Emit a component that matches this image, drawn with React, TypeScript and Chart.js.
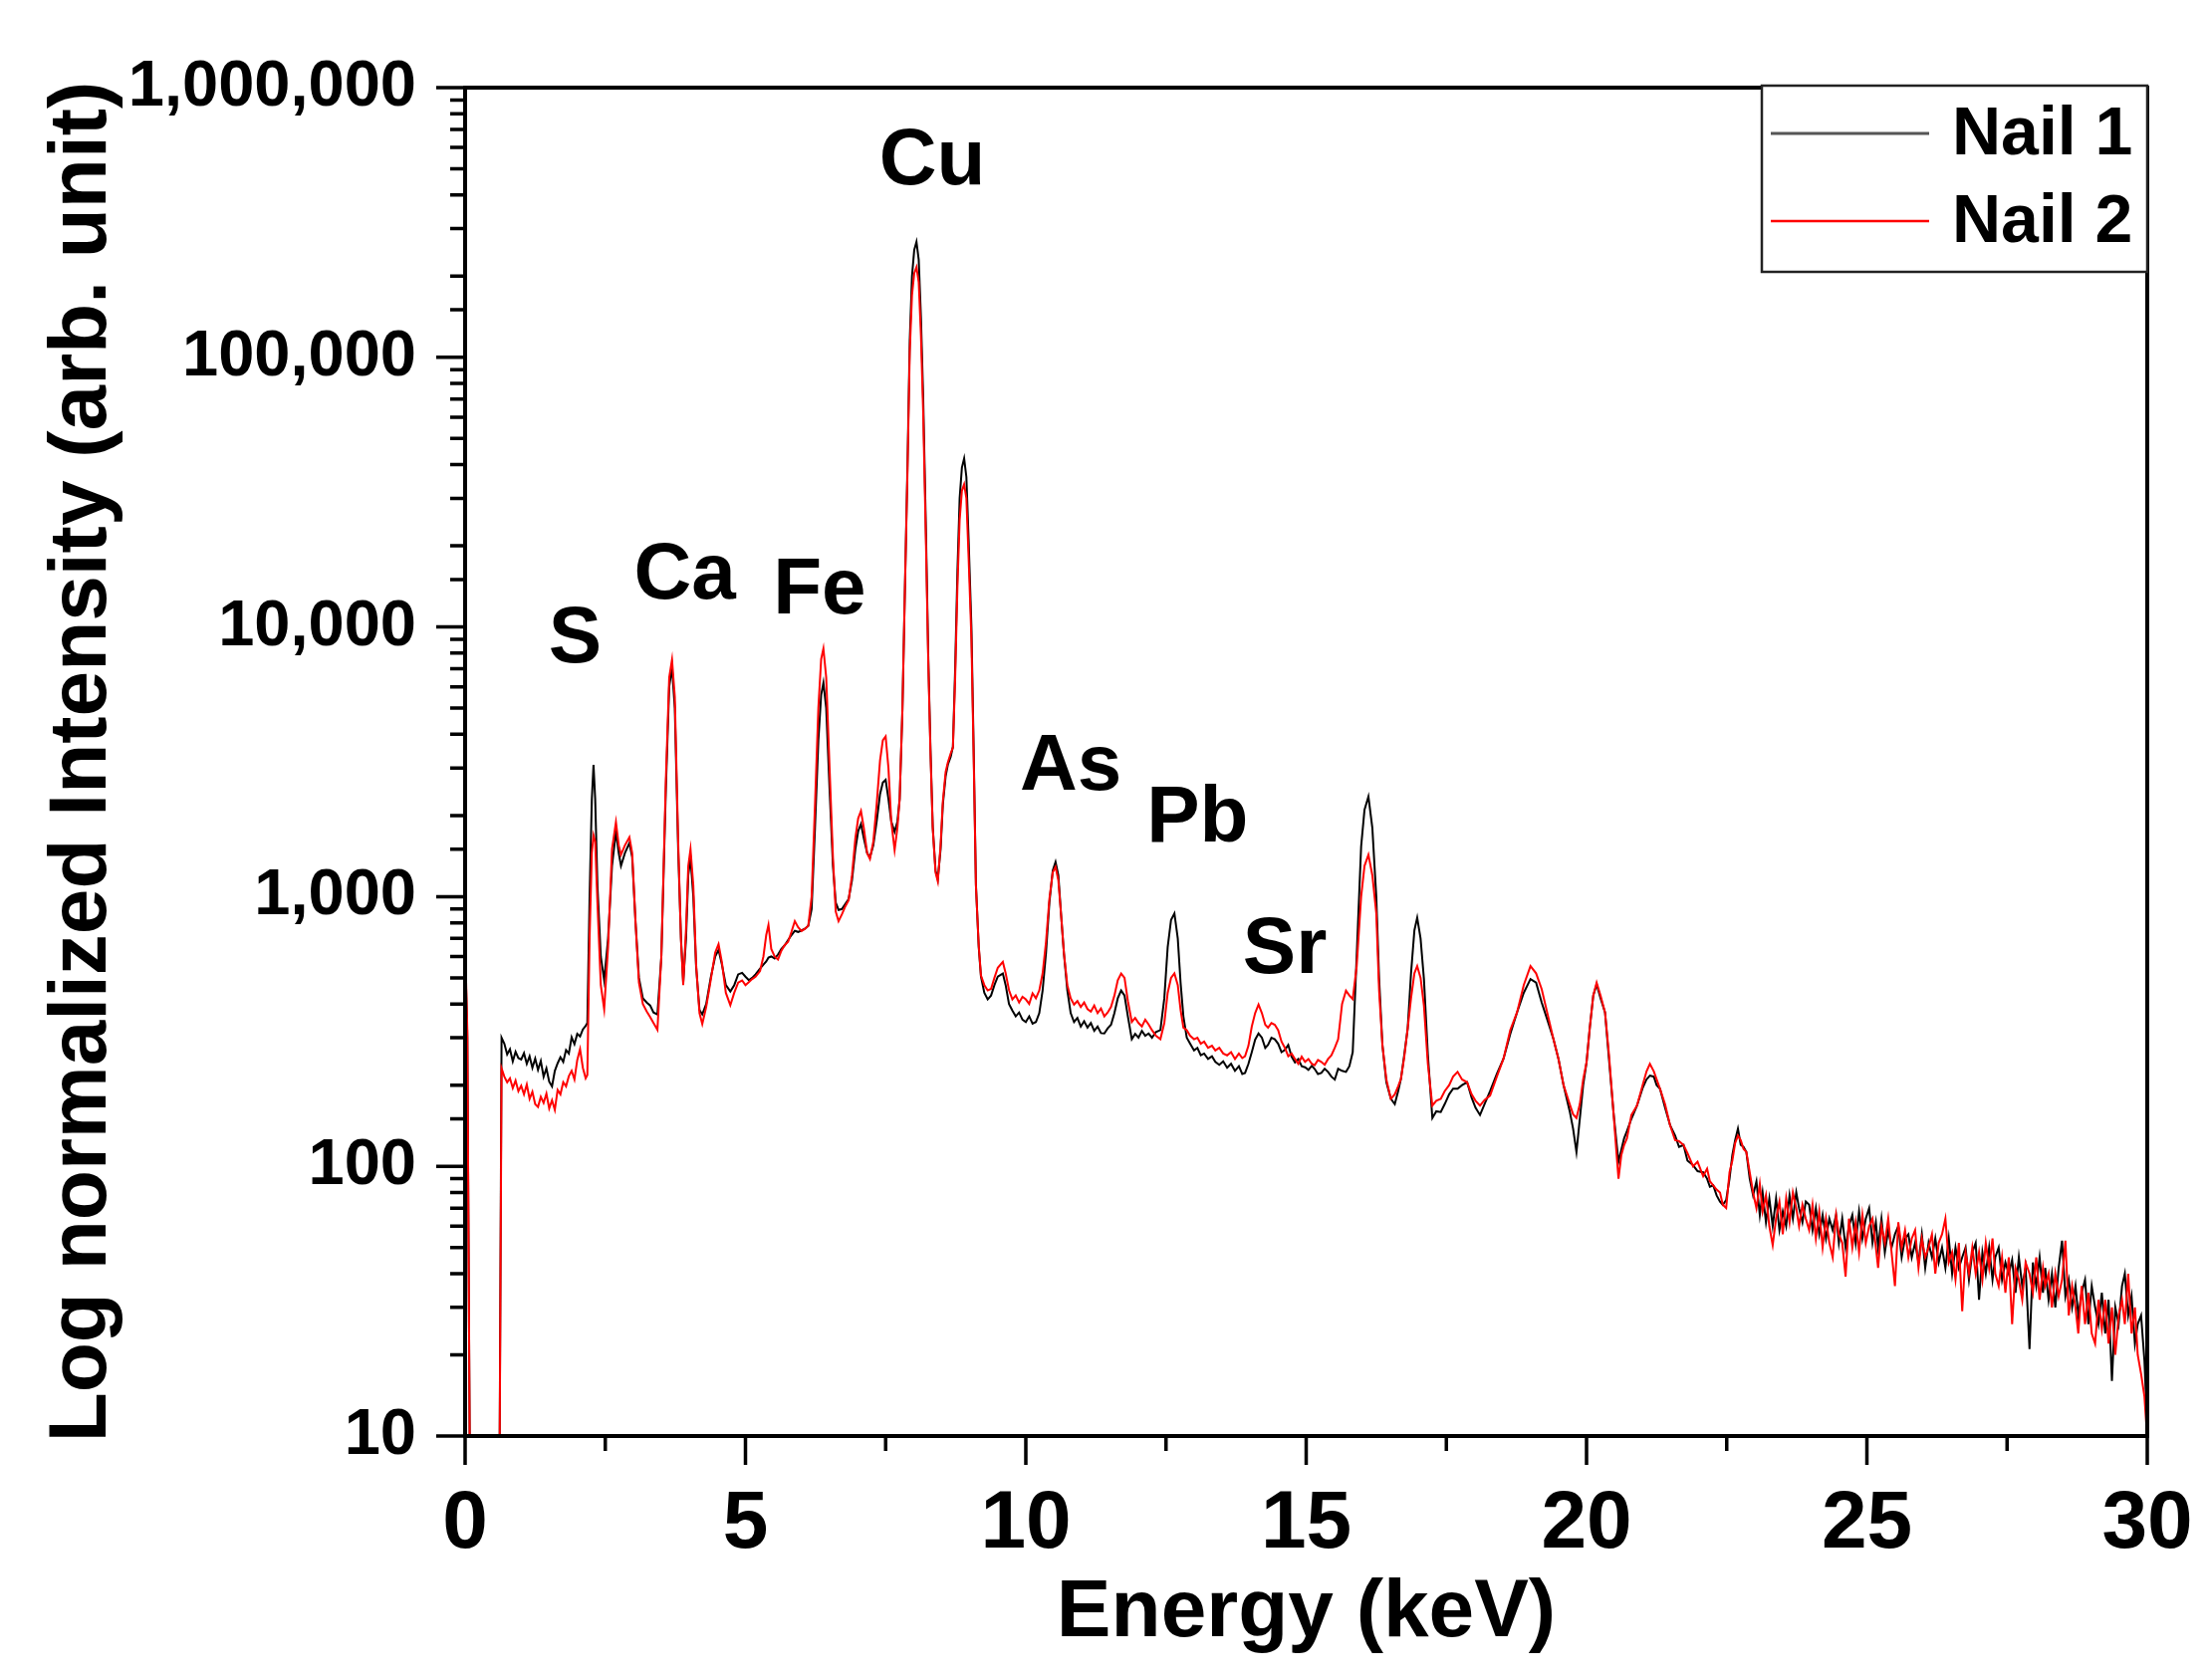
import { useEffect, useRef } from 'react'
import { Chart, registerables } from 'chart.js'

Chart.register(...registerables)

// XRF spectra of two nail samples (keV, normalized counts)
const ENERGY_KEV = [
  0, 0.04, 0.09, 0.61, 0.65, 0.70, 0.75, 0.80, 0.85, 0.90,
  0.95, 1.00, 1.05, 1.10, 1.15, 1.20, 1.25, 1.30, 1.35, 1.40,
  1.45, 1.50, 1.55, 1.60, 1.65, 1.70, 1.75, 1.80, 1.85, 1.90,
  1.95, 2.00, 2.05, 2.10, 2.15, 2.18, 2.22, 2.26, 2.29, 2.32,
  2.36, 2.42, 2.48, 2.55, 2.62, 2.69, 2.74, 2.78, 2.85, 2.93,
  2.98, 3.04, 3.10, 3.17, 3.24, 3.30, 3.36, 3.43, 3.50, 3.58,
  3.64, 3.69, 3.74, 3.80, 3.85, 3.89, 3.94, 3.98, 4.02, 4.07,
  4.12, 4.18, 4.23, 4.30, 4.38, 4.46, 4.52, 4.58, 4.65, 4.73,
  4.80, 4.87, 4.94, 5.00, 5.06, 5.12, 5.18, 5.26, 5.32, 5.37,
  5.41, 5.46, 5.52, 5.58, 5.64, 5.70, 5.76, 5.82, 5.88, 5.94,
  6.00, 6.06, 6.12, 6.18, 6.24, 6.30, 6.35, 6.39, 6.44, 6.50,
  6.56, 6.61, 6.66, 6.72, 6.78, 6.84, 6.90, 6.96, 7.01, 7.06,
  7.11, 7.17, 7.22, 7.28, 7.34, 7.40, 7.45, 7.50, 7.55, 7.60,
  7.66, 7.71, 7.75, 7.80, 7.84, 7.89, 7.93, 7.97, 8.01, 8.05,
  8.09, 8.13, 8.17, 8.22, 8.26, 8.30, 8.34, 8.39, 8.43, 8.48,
  8.52, 8.57, 8.61, 8.66, 8.70, 8.74, 8.78, 8.82, 8.86, 8.90,
  8.94, 8.98, 9.03, 9.07, 9.11, 9.16, 9.20, 9.26, 9.32, 9.38,
  9.44, 9.50, 9.59, 9.64, 9.70, 9.76, 9.82, 9.88, 9.94, 10.00,
  10.06, 10.12, 10.18, 10.24, 10.30, 10.36, 10.42, 10.48, 10.53, 10.58,
  10.63, 10.68, 10.74, 10.80, 10.86, 10.92, 10.98, 11.04, 11.10, 11.16,
  11.22, 11.28, 11.34, 11.40, 11.46, 11.52, 11.58, 11.64, 11.70, 11.76,
  11.82, 11.89, 11.95, 12.01, 12.07, 12.13, 12.19, 12.25, 12.32, 12.40,
  12.47, 12.53, 12.59, 12.65, 12.71, 12.76, 12.81, 12.87, 12.93, 13.00,
  13.06, 13.12, 13.18, 13.25, 13.32, 13.38, 13.45, 13.52, 13.59, 13.66,
  13.73, 13.80, 13.86, 13.91, 13.97, 14.03, 14.09, 14.15, 14.21, 14.27,
  14.32, 14.38, 14.44, 14.50, 14.56, 14.62, 14.68, 14.74, 14.80, 14.86,
  14.92, 14.98, 15.04, 15.10, 15.15, 15.21, 15.27, 15.33, 15.39, 15.45,
  15.51, 15.57, 15.64, 15.71, 15.77, 15.83, 15.90, 15.98, 16.04, 16.11,
  16.18, 16.25, 16.30, 16.36, 16.43, 16.51, 16.58, 16.64, 16.69, 16.75,
  16.81, 16.87, 16.93, 16.98, 17.04, 17.10, 17.17, 17.25, 17.32, 17.40,
  17.47, 17.55, 17.62, 17.70, 17.78, 17.87, 17.95, 18.02, 18.10, 18.18,
  18.28, 18.40, 18.52, 18.64, 18.76, 18.88, 19.00, 19.10, 19.20, 19.30,
  19.41, 19.50, 19.59, 19.70, 19.76, 19.82, 19.88, 19.94, 20.00, 20.06,
  20.12, 20.18, 20.25, 20.33, 20.40, 20.48, 20.53, 20.57, 20.62, 20.67,
  20.72, 20.80, 20.90, 21.00, 21.07, 21.13, 21.20, 21.25, 21.31, 21.40,
  21.49, 21.58, 21.65, 21.73, 21.80, 21.90, 21.98, 22.08, 22.15, 22.20,
  22.26, 22.32, 22.38, 22.43, 22.49, 22.55, 22.60, 22.65, 22.70, 22.75,
  22.80, 22.85, 22.91, 22.97, 23.03, 23.09, 23.14, 23.20, 23.26, 23.32,
  23.38, 23.44, 23.50, 23.56, 23.62, 23.68, 23.74, 23.79, 23.85, 23.91,
  23.97, 24.03, 24.09, 24.15, 24.21, 24.27, 24.33, 24.39, 24.45, 24.50,
  24.56, 24.62, 24.68, 24.74, 24.80, 24.86, 24.92, 24.98, 25.04, 25.10,
  25.16, 25.20, 25.26, 25.32, 25.38, 25.44, 25.50, 25.56, 25.62, 25.68,
  25.74, 25.80, 25.86, 25.92, 25.98, 26.04, 26.10, 26.16, 26.22, 26.28,
  26.34, 26.40, 26.46, 26.52, 26.58, 26.64, 26.70, 26.76, 26.82, 26.88,
  26.94, 27.00, 27.06, 27.12, 27.18, 27.24, 27.29, 27.35, 27.41, 27.47,
  27.53, 27.59, 27.65, 27.71, 27.77, 27.83, 27.90, 27.96, 28.02, 28.08,
  28.14, 28.18, 28.24, 28.30, 28.36, 28.42, 28.48, 28.54, 28.60, 28.66,
  28.72, 28.77, 28.83, 28.89, 28.95, 29.01, 29.07, 29.13, 29.19, 29.25,
  29.31, 29.37, 29.43, 29.49, 29.55, 29.60, 29.66, 29.72, 29.78, 29.83,
  29.89, 29.95, 29.99,
]

const NAIL_1 = [
  650, 300, 5, 5, 300, 285, 260, 272, 245, 266,
  252, 249, 263, 240, 256, 232, 251, 228, 246, 215,
  231, 206, 198, 226, 241, 254, 244, 270, 262, 301,
  284, 310, 303, 322, 332, 340, 1000, 2300, 3080, 2300,
  1100, 600, 490, 700, 1300, 1740, 1450, 1300, 1450, 1580,
  1400, 800, 500, 420, 405, 395, 372, 366, 600, 2500,
  6000, 7060, 5000, 1500, 700, 481, 700, 1200, 1390, 1000,
  550, 380, 366, 400, 500, 600, 635, 560, 470, 445,
  470, 515, 522, 505, 490, 500, 515, 541, 560, 575,
  594, 600, 590, 610, 640, 660, 690, 720, 747, 740,
  750, 760, 780, 900, 1800, 3800, 5600, 6210, 5000, 2500,
  1300, 950, 893, 900, 940, 980, 1150, 1500, 1750, 1860,
  1650, 1450, 1400, 1550, 1900, 2400, 2650, 2710, 2300, 1900,
  1740, 1900, 2300, 5000, 12700, 40000, 115000, 200000, 250000, 268000,
  230000, 140000, 70300, 22000, 7810, 3500, 1810, 1250, 1160, 1500,
  2190, 2800, 3090, 3300, 3600, 7000, 16000, 30000, 39000, 42200,
  36000, 21000, 9980, 3500, 1110, 650, 506, 440, 416, 430,
  470, 505, 519, 470, 400, 378, 360, 372, 350, 343,
  360, 338, 343, 370, 450, 620, 950, 1250, 1345, 1200,
  850, 615, 450, 370, 343, 355, 330, 345, 327, 340,
  318, 330, 312, 311, 325, 335, 370, 420, 449, 430,
  360, 296, 310, 300, 318, 305, 311, 300, 315, 320,
  420, 650, 820, 867, 700, 480, 360, 300, 285, 269,
  275, 258, 262, 250, 256, 244, 238, 245, 232, 240,
  226, 235, 220, 222, 240, 265, 295, 311, 300, 275,
  282, 300, 296, 285, 265, 270, 282, 255, 243, 250,
  235, 233, 228, 236, 230, 220, 222, 230, 224, 215,
  210, 230, 226, 224, 235, 265, 600, 1535, 2100, 2350,
  1800, 1000, 500, 281, 205, 178, 170, 190, 211, 260,
  324, 520, 750, 836, 700, 495, 260, 151, 160, 159,
  170, 185, 194, 194, 200, 205, 180, 165, 155, 170,
  190, 220, 251, 310, 372, 440, 495, 480, 405, 350,
  296, 250, 200, 160, 138, 113, 150, 200, 243, 330,
  430, 473, 420, 372, 250, 159, 125, 104, 115, 127,
  135, 150, 168, 195, 210, 217, 215, 200, 194, 165,
  142, 130, 118, 120, 105, 101, 96, 95, 90, 84,
  85, 78, 74, 72, 75, 90, 110, 125, 138, 120,
  118, 113, 90, 78, 88, 66, 80, 62, 76, 60,
  76, 58, 68, 60, 78, 64, 80, 70, 62, 74,
  72, 58, 70, 56, 66, 54, 64, 58, 66, 52,
  64, 50, 60, 66, 52, 68, 54, 64, 70, 52,
  62, 50, 64, 48, 58, 50, 56, 60, 46, 54,
  56, 46, 52, 44, 56, 42, 52, 46, 54, 44,
  50, 42, 54, 40, 50, 42, 46, 50, 38, 48,
  52, 32, 48, 40, 50, 38, 46, 50, 38, 44,
  40, 45, 34, 46, 36, 42, 21, 44, 36, 46,
  34, 42, 32, 40, 30, 42, 53, 33, 38, 30,
  36, 28, 34, 38, 26, 36, 30, 26, 34, 24,
  32, 16, 30, 26, 36, 40, 28, 33, 22, 26,
  28, 19, 12,
]

const NAIL_2 = [
  680, 320, 5, 5, 231, 215, 205, 212, 195, 208,
  190, 199, 185, 201, 178, 189, 170, 166, 181, 172,
  186, 164, 176, 162, 192, 185, 205, 198, 216, 226,
  210, 248, 272, 232, 212, 218, 700, 1450, 1690, 1600,
  950, 470, 383, 650, 1500, 1890, 1550, 1430, 1550, 1660,
  1450, 800, 480, 400, 375, 358, 340, 321, 600, 2700,
  6500, 7570, 5500, 1600, 690, 470, 760, 1300, 1500, 1100,
  560, 370, 337, 390, 490, 620, 667, 570, 440, 396,
  440, 480, 489, 470, 482, 495, 505, 530, 600, 720,
  785, 640, 600, 585, 630, 662, 680, 740, 811, 770,
  745, 760, 780, 1000, 2200, 5000, 7600, 8320, 6500, 3000,
  1400, 880, 811, 860, 920, 970, 1200, 1650, 1950, 2080,
  1800, 1450, 1380, 1600, 2200, 3200, 3800, 3930, 3000, 1900,
  1490, 1800, 2300, 5000, 12700, 38000, 105000, 170000, 205000, 216000,
  190000, 120000, 62000, 20000, 7500, 3400, 1800, 1230, 1140, 1550,
  2250, 2900, 3150, 3400, 3570, 6500, 14000, 25000, 32000, 33800,
  30000, 18000, 9000, 3300, 1100, 660, 510, 470, 449, 455,
  500, 545, 573, 520, 450, 416, 430, 405, 425, 416,
  400, 438, 420, 449, 520, 680, 980, 1230, 1290, 1150,
  850, 615, 470, 420, 398, 410, 390, 405, 383, 375,
  395, 370, 385, 360, 372, 390, 430, 490, 519, 500,
  410, 343, 355, 340, 330, 350, 336, 320, 305, 296,
  340, 440, 500, 519, 470, 380, 327, 320, 305, 296,
  300, 285, 290, 275, 280, 269, 275, 262, 258, 265,
  250, 262, 252, 256, 280, 330, 370, 398, 370, 335,
  327, 340, 335, 320, 290, 275, 256, 262, 250, 240,
  255, 244, 250, 240, 237, 248, 244, 238, 250, 258,
  275, 296, 400, 448, 430, 417, 550, 1000, 1300, 1430,
  1200, 869, 450, 281, 210, 178, 185, 198, 211, 255,
  324, 420, 520, 553, 500, 394, 240, 168, 175, 178,
  190, 200, 215, 224, 210, 205, 185, 175, 168, 176,
  183, 215, 251, 320, 372, 470, 553, 520, 454, 370,
  296, 250, 200, 170, 156, 151, 170, 210, 243, 330,
  430, 480, 430, 372, 260, 159, 115, 90, 110, 120,
  127, 155, 168, 200, 225, 240, 225, 210, 194, 170,
  142, 125, 124, 120, 112, 100, 104, 92, 98, 88,
  85, 82, 80, 72, 70, 95, 105, 122, 130, 125,
  116, 113, 95, 80, 70, 86, 68, 78, 60, 51,
  64, 74, 56, 76, 62, 80, 70, 60, 72, 64,
  58, 72, 54, 68, 50, 64, 52, 46, 66, 56,
  52, 39, 64, 50, 62, 48, 66, 52, 60, 64,
  50, 42, 60, 52, 64, 48, 36, 62, 50, 58,
  46, 54, 58, 42, 54, 46, 50, 56, 40, 52,
  56, 64, 44, 48, 38, 52, 29, 48, 40, 50,
  40, 48, 38, 52, 42, 54, 40, 36, 46, 34,
  46, 26, 42, 38, 32, 44, 40, 34, 46, 32,
  42, 36, 40, 30, 40, 33, 38, 53, 28, 36,
  30, 24, 36, 26, 34, 24, 22, 32, 25, 32,
  22, 30, 20, 28, 32, 26, 40, 24, 30, 20,
  17, 14, 10.5,
]

const SERIES_NAMES = ['Nail 1', 'Nail 2']
const SERIES_COLORS = ['#000000', '#ff0000']

const X_MAJOR_TICKS = [0, 5, 10, 15, 20, 25, 30]
const X_MINOR_TICKS = [2.5, 7.5, 12.5, 17.5, 22.5, 27.5]
const Y_MAJOR_TICKS = [10, 100, 1000, 10000, 100000, 1000000]

// element labels placed at (keV, intensity) of their baseline centre
const PEAK_NAMES = ['S', 'Ca', 'Fe', 'Cu', 'As', 'Pb', 'Sr']
const PEAK_KEV = [1.96, 3.92, 6.32, 8.33, 10.8, 13.06, 14.62]
const PEAK_LABEL_Y = [7400, 12700, 11270, 440000, 2500, 1600, 521]

const FONT = "'Liberation Sans', Arial, Helvetica, sans-serif"

const isMajorY = (v: number) => Y_MAJOR_TICKS.some(m => Math.abs(v - m) < m * 1e-6)

const framePlugin = {
  id: 'frame',
  afterDatasetsDraw(chart: any) {
    const { ctx, chartArea: a, scales } = chart
    ctx.save()
    ctx.strokeStyle = '#000'
    ctx.lineWidth = 4
    ctx.strokeRect(a.left, a.top, a.right - a.left, a.bottom - a.top)
    ctx.lineWidth = 3.5
    ctx.beginPath()
    X_MAJOR_TICKS.forEach(v => {
      const x = scales.x.getPixelForValue(v)
      ctx.moveTo(x, a.bottom); ctx.lineTo(x, a.bottom + 29)
    })
    X_MINOR_TICKS.forEach(v => {
      const x = scales.x.getPixelForValue(v)
      ctx.moveTo(x, a.bottom); ctx.lineTo(x, a.bottom + 15)
    })
    scales.y.ticks.forEach((t: any) => {
      const y = scales.y.getPixelForValue(t.value)
      const len = isMajorY(t.value) ? 29 : 15
      ctx.moveTo(a.left, y); ctx.lineTo(a.left - len, y)
    })
    ctx.stroke()
    ctx.restore()
  },
  afterDraw(chart: any) {
    const { ctx, scales } = chart
    ctx.save()
    ctx.fillStyle = '#000'
    ctx.font = `bold 80px ${FONT}`
    ctx.textAlign = 'center'
    ctx.textBaseline = 'alphabetic'
    PEAK_NAMES.forEach((name, i) => {
      ctx.fillText(name, scales.x.getPixelForValue(PEAK_KEV[i]), scales.y.getPixelForValue(PEAK_LABEL_Y[i]))
    })

    // legend box in the top-right corner
    const right = chart.chartArea.right
    const top = chart.chartArea.top
    const box = { x: right - 387, y: top - 2, w: 387, h: 187 }
    ctx.fillStyle = '#fff'
    ctx.fillRect(box.x, box.y, box.w, box.h)
    ctx.strokeStyle = '#222'
    ctx.lineWidth = 2.5
    ctx.strokeRect(box.x, box.y, box.w, box.h)
    ctx.font = `bold 68px ${FONT}`
    ctx.textAlign = 'left'
    ctx.textBaseline = 'middle'
    SERIES_NAMES.forEach((name, i) => {
      const y = box.y + 48 + i * 88
      ctx.strokeStyle = i === 0 ? '#555' : SERIES_COLORS[i]
      ctx.lineWidth = i === 0 ? 3 : 2.5
      ctx.beginPath()
      ctx.moveTo(box.x + 9, y); ctx.lineTo(box.x + 168, y)
      ctx.stroke()
      ctx.fillStyle = '#000'
      ctx.fillText(name, box.x + 191, y + 2)
    })
    ctx.restore()
  },
}

export default function App() {
  const canvasRef = useRef<HTMLCanvasElement>(null)
  const chartRef = useRef<any>(null)

  useEffect(() => {
    if (!canvasRef.current) return
    if (chartRef.current) chartRef.current.destroy()

    const series = [NAIL_1, NAIL_2]

    chartRef.current = new Chart(canvasRef.current, {
      type: 'line',
      data: {
        datasets: series.map((vals, i) => ({
          label: SERIES_NAMES[i],
          data: ENERGY_KEV.map((x, j) => ({ x, y: vals[j] })),
          borderColor: SERIES_COLORS[i],
          borderWidth: 2,
          pointRadius: 0,
          tension: 0,
          fill: false,
          order: i === 0 ? 1 : 0,
        })),
      },
      options: {
        responsive: true,
        maintainAspectRatio: false,
        animation: false,
        events: [],
        layout: { padding: { top: 88, right: 65, left: 0, bottom: 0 } },
        plugins: {
          legend: { display: false },
          tooltip: { enabled: false },
        },
        scales: {
          x: {
            type: 'linear',
            min: 0,
            max: 30,
            afterFit: (s: any) => { s.height = 245; s.paddingLeft = 0; s.paddingRight = 0 },
            grid: { display: false, drawTicks: false },
            border: { display: false },
            ticks: {
              stepSize: 5,
              autoSkip: false,
              maxRotation: 0,
              padding: 40,
              color: '#000',
              font: { family: FONT, size: 82, weight: 'bold' },
            },
            title: {
              display: true,
              text: 'Energy (keV)',
              color: '#000',
              font: { family: FONT, size: 82, weight: 'bold' },
              padding: { top: 0, bottom: 17 },
            },
          },
          y: {
            type: 'logarithmic',
            min: 10,
            max: 1000000,
            afterFit: (s: any) => { s.width = 467; s.paddingTop = 0; s.paddingBottom = 0 },
            grid: { display: false, drawTicks: false },
            border: { display: false },
            ticks: {
              autoSkip: false,
              padding: 49,
              color: '#000',
              font: { family: FONT, size: 65, weight: 'bold' },
              callback: (v: any) => isMajorY(Number(v)) ? Number(v).toLocaleString('en-US') : '',
            },
            title: {
              display: true,
              text: 'Log normalized Intensity (arb. unit)',
              color: '#000',
              font: { family: FONT, size: 82, weight: 'bold' },
              padding: { top: 34, bottom: 0 },
            },
          },
        },
      },
      plugins: [framePlugin],
    } as any)

    return () => { if (chartRef.current) chartRef.current.destroy() }
  }, [])

  return (
    <div style={{ position: 'absolute', left: 0, top: 0, width: 2221, height: 1687, background: '#fff' }}>
      <canvas ref={canvasRef} />
    </div>
  )
}
